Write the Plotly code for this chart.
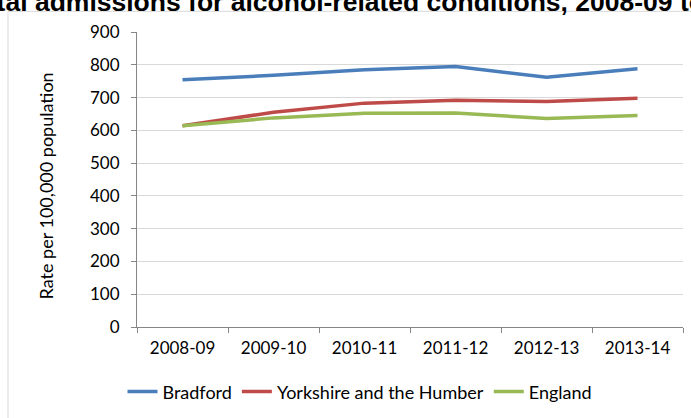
import plotly.graph_objects as go

years = ["2008-09", "2009-10", "2010-11", "2011-12", "2012-13", "2013-14"]
bradford = [754, 768, 785, 795, 762, 788]
yorkshire = [614, 655, 683, 692, 688, 698]
england = [614, 638, 652, 653, 636, 645]

series = [
    ("Bradford", bradford, "#4A7EBB"),
    ("Yorkshire and the Humber", yorkshire, "#BE4B48"),
    ("England", england, "#98B954"),
]

FONT = "Lato"
fig = go.Figure()
for name, vals, col in series:
    fig.add_trace(go.Scatter(x=years, y=vals, name=name, mode="lines",
                             line=dict(color=col, width=3.5)))

W, H = 691, 418
L, R, T, B = 137, 8, 32, 86
pw, ph = W - L - R, H - T - B

def px_x(x):
    return (x - L) / pw

def px_y(y):
    return (H - B - y) / ph

fig.update_layout(
    width=W, height=H,
    margin=dict(l=L, r=R, t=T, b=B, pad=0),
    paper_bgcolor="white", plot_bgcolor="white",
    font=dict(family=FONT, size=17, color="#000000"),
    showlegend=True,
    legend=dict(orientation="h", x=px_x(360), xanchor="center",
                y=px_y(398), yanchor="middle", font=dict(size=18),
                itemwidth=30, bgcolor="rgba(0,0,0,0)"),
    xaxis=dict(type="category", showgrid=False, showline=True,
               linecolor="#868686", linewidth=1, ticks="outside",
               tickson="boundaries", ticklen=5, tickcolor="#868686",
               ticklabelstandoff=6, range=[-0.5, 5.5]),
    yaxis=dict(range=[0, 900], dtick=100, showgrid=True, gridcolor="#D9D9D9",
               gridwidth=1, showline=True, linecolor="#868686", linewidth=1,
               ticks="outside", ticklen=5, tickcolor="#868686",
               ticklabelstandoff=8, zeroline=False),
    shapes=[dict(type="rect", xref="paper", yref="paper",
                 x0=px_x(8), x1=px_x(W + 20), y0=px_y(H + 20), y1=px_y(11),
                 line=dict(color="#D9D9D9", width=1), fillcolor="rgba(0,0,0,0)",
                 layer="below")],
    annotations=[
        dict(text="<b>Hospital admissions for alcohol-related conditions, 2008-09 to 2013-14</b>",
             xref="paper", yref="paper", x=px_x(366), y=px_y(2),
             xanchor="center", yanchor="middle", showarrow=False,
             font=dict(family="Liberation Sans", size=26.5, color="#000000")),
        dict(text="Rate per 100,000 population", textangle=-90,
             xref="paper", yref="paper", x=px_x(46), y=px_y(189),
             xanchor="center", yanchor="middle", showarrow=False,
             font=dict(family=FONT, size=18, color="#000000")),
    ],
)

fig.write_html("out.html")
